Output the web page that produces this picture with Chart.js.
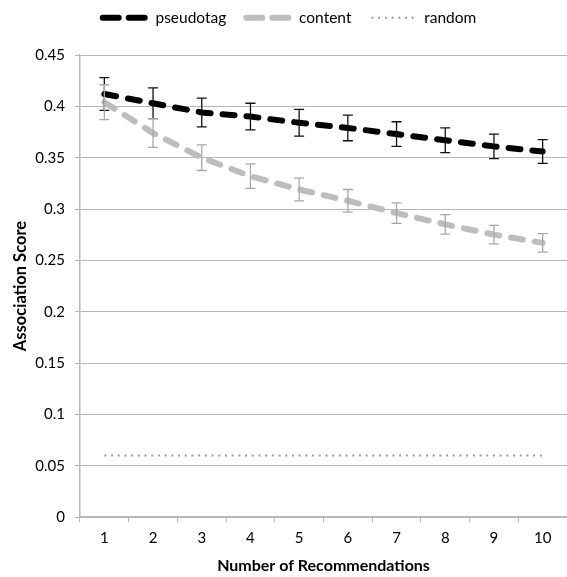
<!DOCTYPE html>
<html>
<head>
<meta charset="utf-8">
<script src="https://cdn.jsdelivr.net/npm/chart.js@4"></script>
<style>
  html, body { margin: 0; padding: 0; background: #fff; }
  #wrap { width: 567px; height: 577px; }
</style>
</head>
<body>
<div id="wrap"><canvas id="grafico"></canvas></div>
<script>
// dados
const categorias = ["1", "2", "3", "4", "5", "6", "7", "8", "9", "10"];
const pseudotag = [0.412, 0.403, 0.394, 0.390, 0.384, 0.379, 0.373, 0.367, 0.361, 0.356];
const pseudotagErro = [0.016, 0.015, 0.014, 0.013, 0.013, 0.0125, 0.012, 0.012, 0.012, 0.0115];
const content = [0.404, 0.374, 0.350, 0.332, 0.319, 0.308, 0.296, 0.285, 0.275, 0.267];
const contentErro = [0.017, 0.014, 0.0125, 0.012, 0.011, 0.011, 0.01, 0.0095, 0.009, 0.009];
const random = [0.06, 0.06, 0.06, 0.06, 0.06, 0.06, 0.06, 0.06, 0.06, 0.06];
const ticksY = [0, 0.05, 0.1, 0.15, 0.2, 0.25, 0.3, 0.35, 0.4, 0.45];

const fonte = "Lato, 'Open Sans', sans-serif";
const cinzaGrade = "#b8b8b8";

// barras de erro desenhadas com as escalas do próprio Chart.js
const barrasErro = {
  id: "barrasErro",
  afterDatasetsDraw(chart) {
    const { ctx, scales } = chart;
    chart.data.datasets.forEach((ds, i) => {
      if (!ds.erros) return;
      const meta = chart.getDatasetMeta(i);
      ctx.save();
      ctx.strokeStyle = ds.corErro;
      ctx.lineWidth = 1.3;
      ctx.setLineDash([]);
      meta.data.forEach((pt, j) => {
        const x = scales.x.getPixelForValue(j);
        const yTop = scales.y.getPixelForValue(ds.data[j] + ds.erros[j]);
        const yBot = scales.y.getPixelForValue(ds.data[j] - ds.erros[j]);
        ctx.beginPath();
        ctx.moveTo(x, yTop); ctx.lineTo(x, yBot);
        ctx.moveTo(x - 5, yTop); ctx.lineTo(x + 5, yTop);
        ctx.moveTo(x - 5, yBot); ctx.lineTo(x + 5, yBot);
        ctx.stroke();
      });
      ctx.restore();
    });
  },
};

// altura fixa da legenda e pequeno deslocamento para a direita
const ajusteLegenda = {
  id: "ajusteLegenda",
  beforeUpdate(chart) {
    const leg = chart.legend;
    if (!leg || leg._fixado) return;
    const fitOriginal = leg.fit;
    leg.fit = function () {
      fitOriginal.call(this);
      this.height = 65;
    };
    leg._fixado = true;
  },
  afterLayout(chart) {
    if (chart.legend) chart.legend.left += 12;
  },
};

new Chart(document.getElementById("grafico"), {
  type: "line",
  data: {
    labels: categorias,
    datasets: [
      {
        label: "pseudotag",
        data: pseudotag,
        erros: pseudotagErro,
        corErro: "#111",
        borderColor: "#000",
        backgroundColor: "#000",
        borderWidth: 6,
        borderDash: [12, 12],
        borderCapStyle: "round",
        pointRadius: 0,
        tension: 0,
      },
      {
        label: "content",
        data: content,
        erros: contentErro,
        corErro: "#a8a8a8",
        borderColor: "#bdbdbd",
        backgroundColor: "#bdbdbd",
        borderWidth: 6,
        borderDash: [12, 12],
        borderCapStyle: "round",
        pointRadius: 0,
        tension: 0,
      },
      {
        label: "random",
        data: random,
        borderColor: "#9a9a9a",
        backgroundColor: "#9a9a9a",
        borderWidth: 2,
        borderDash: [2, 4.7],
        pointRadius: 0,
        tension: 0,
      },
    ],
  },
  options: {
    responsive: true,
    maintainAspectRatio: false,
    animation: false,
    layout: { padding: { top: -10, left: 0, right: 0, bottom: 0 } },
    plugins: {
      legend: {
        position: "top",
        labels: {
          usePointStyle: true,
          pointStyleWidth: 45,
          padding: 20,
          color: "#000",
          font: { family: fonte, size: 15.5 },
          generateLabels: (chart) =>
            chart.data.datasets.map((ds, i) => ({
              text: ds.label,
              datasetIndex: i,
              fillStyle: ds.borderColor,
              strokeStyle: ds.borderColor,
              fontColor: "#000",
              lineWidth: ds.borderWidth,
              lineDash: ds.borderWidth > 2 ? [16, 10] : ds.borderDash,
              lineCap: ds.borderCapStyle || "butt",
              pointStyle: "line",
              hidden: false,
            })),
        },
      },
      tooltip: { enabled: false },
    },
    scales: {
      x: {
        offset: true,
        afterFit: (s) => { s.height = 60; },
        grid: { offset: true, drawOnChartArea: false, drawTicks: true, tickLength: 5, color: cinzaGrade },
        border: { color: cinzaGrade, width: 1.5 },
        ticks: { color: "#000", padding: 7, font: { family: fonte, size: 15 } },
        title: {
          display: true,
          text: "Number of Recommendations",
          color: "#000",
          font: { family: fonte, size: 16, weight: "bold" },
          padding: { top: 0, bottom: 2 },
        },
      },
      y: {
        min: 0,
        max: 0.45,
        afterFit: (s) => { s.width = 80; },
        afterBuildTicks: (s) => { s.ticks = ticksY.map((v) => ({ value: v })); },
        grid: { color: cinzaGrade, tickLength: 5, drawTicks: true },
        border: { color: cinzaGrade, width: 1.5 },
        ticks: {
          color: "#000",
          padding: 10,
          font: { family: fonte, size: 15 },
          callback: (v) => String(+v.toFixed(2)),
        },
        title: {
          display: true,
          text: "Association Score",
          color: "#000",
          font: { family: fonte, size: 16.5, weight: "bold" },
          padding: { top: 11, bottom: 0 },
        },
      },
    },
  },
  plugins: [barrasErro, ajusteLegenda],
});
</script>
</body>
</html>
